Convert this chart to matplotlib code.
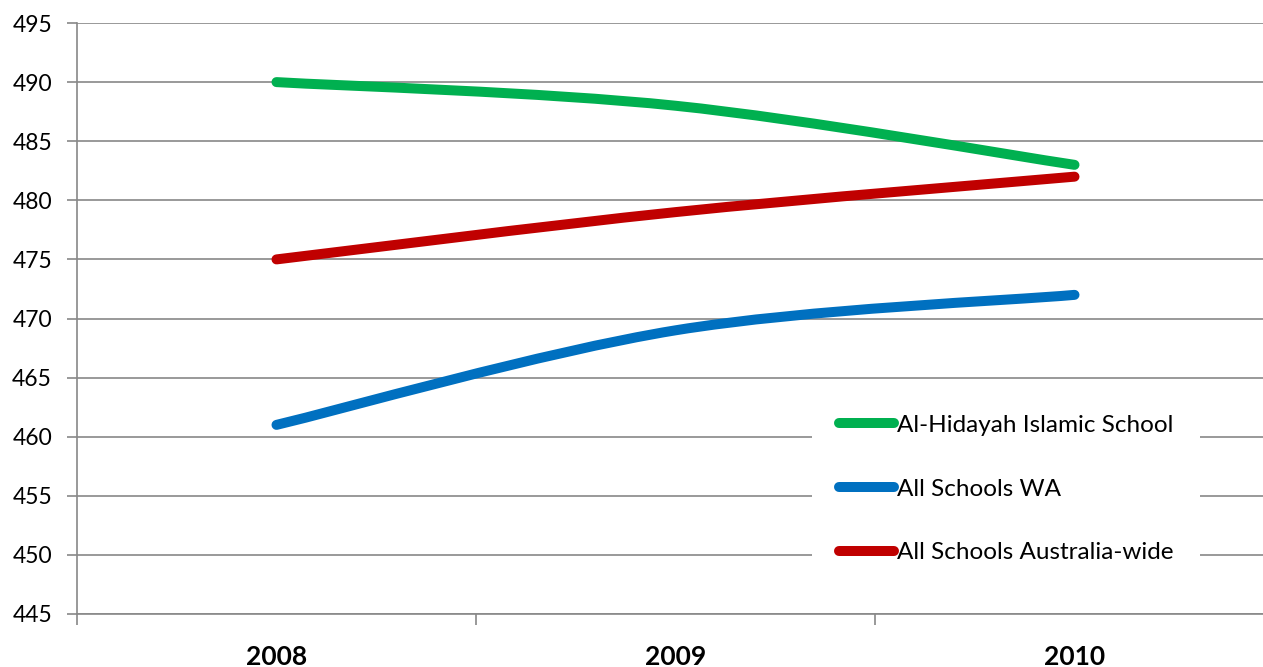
import numpy as np
import matplotlib
matplotlib.use('Agg')
import matplotlib.pyplot as plt
from matplotlib.path import Path
from matplotlib.patches import PathPatch
from matplotlib.lines import Line2D

# data
years = ['2008', '2009', '2010']
al_hidayah = [490, 488, 483]
schools_wa = [461, 469, 472]
schools_aus = [475, 479, 482]

series = [
    ('Al-Hidayah Islamic School', al_hidayah, '#00B050'),
    ('All Schools WA', schools_wa, '#0070C0'),
    ('All Schools Australia-wide', schools_aus, '#C00000'),
]

plt.rcParams['font.family'] = ['Lato', 'DejaVu Sans']
grey = '#888888'


def smooth_path(xs, ys):
    # bezier through the points, like the "smoothed line" option in a spreadsheet
    pts = np.column_stack([xs, ys]).astype(float)
    n = len(pts)
    verts = [pts[0]]
    codes = [Path.MOVETO]
    for i in range(n - 1):
        p0 = pts[max(i - 1, 0)]
        p1 = pts[i]
        p2 = pts[i + 1]
        p3 = pts[min(i + 2, n - 1)]
        verts += [p1 + (p2 - p0) / 6, p2 - (p3 - p1) / 6, p2]
        codes += [Path.CURVE4] * 3
    return Path(verts, codes)


W, H = 1263, 667
fig = plt.figure(figsize=(W / 100, H / 100), dpi=100)
ax = fig.add_axes([77 / W, (H - 614) / H, 1197 / W, 591 / H])

x = np.arange(len(years))
handles = []
for label, vals, col in series:
    ax.add_patch(PathPatch(smooth_path(x, vals), fill=False, edgecolor=col,
                           lw=7.2, capstyle='round', joinstyle='round', zorder=3))
    handles.append(Line2D([], [], color=col, lw=7.2, solid_capstyle='round', label=label))

ax.set_xlim(-0.5, 2.5)
ax.set_ylim(445, 495)
ax.set_yticks(np.arange(445, 496, 5))
ax.set_xticks(x)
ax.set_xticklabels(years, fontsize=19, fontweight='bold')
ax.set_xticks(np.arange(-0.5, 2.6, 1), minor=True)
ax.tick_params(axis='x', which='major', length=0, pad=22)
ax.tick_params(axis='x', which='minor', length=8, width=1.2, color=grey, direction='out')
ax.tick_params(axis='y', length=7, width=1.2, color=grey, pad=11, labelsize=16.5)

ax.grid(axis='y', color=grey, lw=1.2)
ax.set_axisbelow(True)
for s in ['top', 'right']:
    ax.spines[s].set_visible(False)
for s in ['left', 'bottom']:
    ax.spines[s].set_color(grey)
    ax.spines[s].set_linewidth(1.2)

leg = ax.legend(handles=handles, loc='upper left',
                bbox_to_anchor=(812 / W, (H - 388) / H), bbox_transform=fig.transFigure,
                fontsize=17.5, handlelength=2.26, handletextpad=0.12, labelspacing=1.76,
                borderpad=1.1, borderaxespad=0, frameon=True, fancybox=False,
                facecolor='white', edgecolor='none', framealpha=1)

fig.savefig('out.png', dpi=100)
